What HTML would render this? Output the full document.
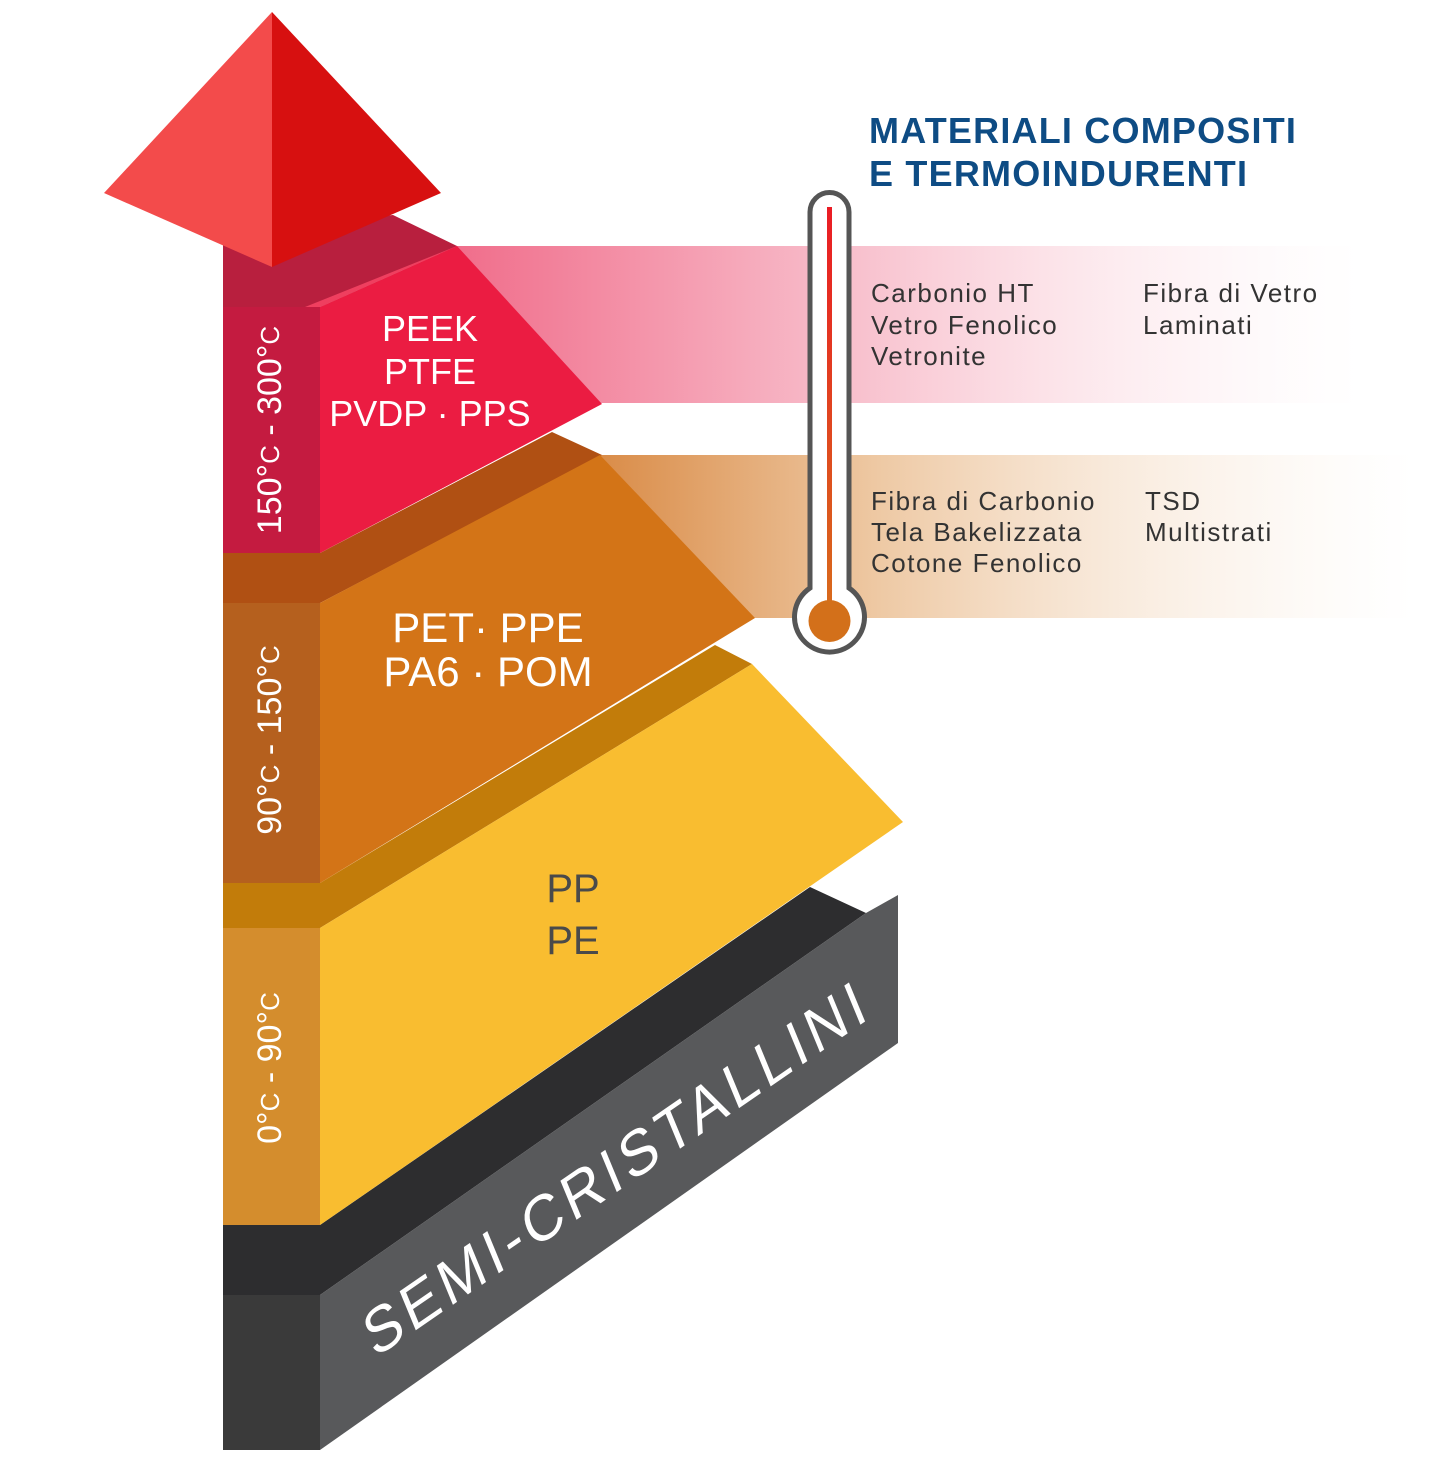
<!DOCTYPE html>
<html><head><meta charset="utf-8"><style>
html,body{margin:0;padding:0;background:#fff;}
svg{display:block;}
text{font-family:"Liberation Sans",sans-serif;}
</style></head><body>
<svg width="1438" height="1463" viewBox="0 0 1438 1463" xmlns="http://www.w3.org/2000/svg">
<defs>
<linearGradient id="gp" x1="0" x2="1" y1="0" y2="0">
<stop offset="0" stop-color="#f06a88"/><stop offset="0.45" stop-color="#f8c0cd"/><stop offset="1" stop-color="#fff" stop-opacity="0.3"/></linearGradient>
<linearGradient id="go" x1="0" x2="1" y1="0" y2="0">
<stop offset="0" stop-color="#d98a45"/><stop offset="0.35" stop-color="#eec9a4"/><stop offset="1" stop-color="#fff" stop-opacity="0.3"/></linearGradient>
<linearGradient id="gt" x1="0" x2="0" y1="0" y2="1">
<stop offset="0" stop-color="#ea1c24"/><stop offset="1" stop-color="#d86a1c"/></linearGradient>
</defs>
<rect x="440" y="246" width="920" height="157" fill="url(#gp)"/>
<rect x="590" y="455" width="825" height="163" fill="url(#go)"/>

<polygon points="223,1225 320,1225 810,887 866,913 320,1295 223,1295" fill="#2d2d2f"/>
<rect x="223" y="1295" width="97" height="155" fill="#3a3a3a"/>
<polygon points="320,1295 866,913 898,895 898,1043 320,1450" fill="#58595b"/>
<text transform="translate(618,1172) rotate(-34.5) skewX(-12)" text-anchor="middle" dominant-baseline="middle" font-size="60" fill="#fff" letter-spacing="5">SEMI-CRISTALLINI</text>

<polygon points="223,883 320,883 715,645 752,664 320,928 223,928" fill="#c27c0a"/>
<rect x="223" y="928" width="97" height="297" fill="#d48d2d"/>
<polygon points="320,928 752,664 903,822 320,1225" fill="#f9bd30"/>
<text x="573" y="902" text-anchor="middle" font-size="40" fill="#4a4a4a">PP</text>
<text x="573" y="954" text-anchor="middle" font-size="40" fill="#4a4a4a">PE</text>

<polygon points="223,553 320,553 552,432 602,455 320,603 223,603" fill="#b05013"/>
<rect x="223" y="603" width="97" height="280" fill="#b5601e"/>
<polygon points="320,603 600,455 755,618 320,883" fill="#d37417"/>
<text x="488" y="642" text-anchor="middle" font-size="42" fill="#fff">PET· PPE</text>
<text x="488" y="686" text-anchor="middle" font-size="42" fill="#fff">PA6 · POM</text>

<polygon points="223,230 393,215 457,246 320,307 223,307" fill="#b81f3e"/>
<rect x="223" y="307" width="97" height="246" fill="#c41b40"/>
<polygon points="320,307 457,246 602,404 320,553" fill="#eb1c42"/>
<polygon points="305,307 457,246 320,307" fill="#ef3f5f"/>
<text x="430" y="341" text-anchor="middle" font-size="36" fill="#fff">PEEK</text>
<text x="430" y="384" text-anchor="middle" font-size="36" fill="#fff">PTFE</text>
<text x="430" y="426" text-anchor="middle" font-size="36" fill="#fff">PVDP · PPS</text>

<polygon points="272,12 104,193 272,267" fill="#f34b4b"/>
<polygon points="272,12 441,193 272,267" fill="#d71010"/>

<text transform="translate(272,430) rotate(-90)" text-anchor="middle" dominant-baseline="middle" font-size="34" fill="#fff">150°<tspan font-size="26">C</tspan> - 300°<tspan font-size="26">C</tspan></text>
<text transform="translate(272,740) rotate(-90)" text-anchor="middle" dominant-baseline="middle" font-size="34" fill="#fff">90°<tspan font-size="26">C</tspan> - 150°<tspan font-size="26">C</tspan></text>
<text transform="translate(272,1068) rotate(-90)" text-anchor="middle" dominant-baseline="middle" font-size="34" fill="#fff">0°<tspan font-size="26">C</tspan> - 90°<tspan font-size="26">C</tspan></text>

<path d="M810,212 a19.5,19.5 0 0 1 39,0 V588 a35,35 0 1 1 -39,0 Z" fill="#fff" stroke="#555" stroke-width="5"/>
<rect x="827" y="207" width="5" height="400" fill="url(#gt)"/>
<circle cx="829.5" cy="621" r="21" fill="#d3701a"/>

<text x="869" y="143" font-size="36" font-weight="bold" fill="#0e4c84" letter-spacing="1.2">MATERIALI COMPOSITI</text>
<text x="869" y="186" font-size="36" font-weight="bold" fill="#0e4c84" letter-spacing="1.2">E TERMOINDURENTI</text>

<g font-size="26" fill="#333" letter-spacing="1.5">
<text x="871" y="302">Carbonio HT</text>
<text x="871" y="334">Vetro Fenolico</text>
<text x="871" y="365">Vetronite</text>
<text x="1143" y="302">Fibra di Vetro</text>
<text x="1143" y="334">Laminati</text>
<text x="871" y="510">Fibra di Carbonio</text>
<text x="871" y="541">Tela Bakelizzata</text>
<text x="871" y="572">Cotone Fenolico</text>
<text x="1145" y="510">TSD</text>
<text x="1145" y="541">Multistrati</text>
</g>
</svg>
</body></html>
